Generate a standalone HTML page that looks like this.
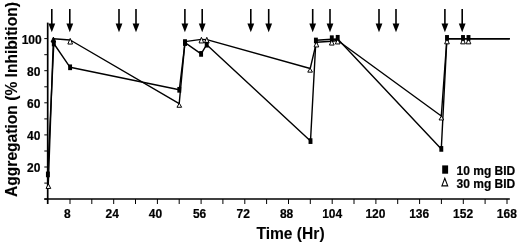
<!DOCTYPE html>
<html><head><meta charset="utf-8"><style>
html,body{margin:0;padding:0;background:#fff;}
body{width:520px;height:244px;overflow:hidden;}
svg{display:block;}
svg{will-change:transform;}
.t{font-family:"Liberation Sans",sans-serif;font-weight:bold;font-size:12px;fill:#000;stroke:#000;stroke-width:0.2px;}
.ti{font-family:"Liberation Sans",sans-serif;font-weight:bold;font-size:15.6px;fill:#000;stroke:#000;stroke-width:0.1px;}
</style></head><body>
<svg width="520" height="244" viewBox="0 0 520 244">
<line x1="47.7" y1="22.6" x2="47.7" y2="204" stroke="#000" stroke-width="1.7"/>
<line x1="44.3" y1="199" x2="509.8" y2="199" stroke="#000" stroke-width="1.6"/>
<line x1="44.3" y1="199.1" x2="47.5" y2="199.1" stroke="#000" stroke-width="1"/>
<line x1="44.3" y1="183.1" x2="47.5" y2="183.1" stroke="#000" stroke-width="1"/>
<line x1="44.3" y1="167.0" x2="47.5" y2="167.0" stroke="#000" stroke-width="1"/>
<line x1="44.3" y1="151.0" x2="47.5" y2="151.0" stroke="#000" stroke-width="1"/>
<line x1="44.3" y1="134.9" x2="47.5" y2="134.9" stroke="#000" stroke-width="1"/>
<line x1="44.3" y1="118.9" x2="47.5" y2="118.9" stroke="#000" stroke-width="1"/>
<line x1="44.3" y1="102.8" x2="47.5" y2="102.8" stroke="#000" stroke-width="1"/>
<line x1="44.3" y1="86.8" x2="47.5" y2="86.8" stroke="#000" stroke-width="1"/>
<line x1="44.3" y1="70.7" x2="47.5" y2="70.7" stroke="#000" stroke-width="1"/>
<line x1="44.3" y1="54.7" x2="47.5" y2="54.7" stroke="#000" stroke-width="1"/>
<line x1="44.3" y1="38.6" x2="47.5" y2="38.6" stroke="#000" stroke-width="1"/>
<line x1="70.0" y1="199" x2="70.0" y2="204" stroke="#000" stroke-width="1"/>
<line x1="91.8" y1="199" x2="91.8" y2="204" stroke="#000" stroke-width="1"/>
<line x1="113.7" y1="199" x2="113.7" y2="204" stroke="#000" stroke-width="1"/>
<line x1="135.5" y1="199" x2="135.5" y2="204" stroke="#000" stroke-width="1"/>
<line x1="157.4" y1="199" x2="157.4" y2="204" stroke="#000" stroke-width="1"/>
<line x1="179.2" y1="199" x2="179.2" y2="204" stroke="#000" stroke-width="1"/>
<line x1="201.1" y1="199" x2="201.1" y2="204" stroke="#000" stroke-width="1"/>
<line x1="222.9" y1="199" x2="222.9" y2="204" stroke="#000" stroke-width="1"/>
<line x1="244.8" y1="199" x2="244.8" y2="204" stroke="#000" stroke-width="1"/>
<line x1="266.6" y1="199" x2="266.6" y2="204" stroke="#000" stroke-width="1"/>
<line x1="288.5" y1="199" x2="288.5" y2="204" stroke="#000" stroke-width="1"/>
<line x1="310.3" y1="199" x2="310.3" y2="204" stroke="#000" stroke-width="1"/>
<line x1="332.2" y1="199" x2="332.2" y2="204" stroke="#000" stroke-width="1"/>
<line x1="354.0" y1="199" x2="354.0" y2="204" stroke="#000" stroke-width="1"/>
<line x1="375.9" y1="199" x2="375.9" y2="204" stroke="#000" stroke-width="1"/>
<line x1="397.7" y1="199" x2="397.7" y2="204" stroke="#000" stroke-width="1"/>
<line x1="419.6" y1="199" x2="419.6" y2="204" stroke="#000" stroke-width="1"/>
<line x1="441.4" y1="199" x2="441.4" y2="204" stroke="#000" stroke-width="1"/>
<line x1="463.3" y1="199" x2="463.3" y2="204" stroke="#000" stroke-width="1"/>
<line x1="485.1" y1="199" x2="485.1" y2="204" stroke="#000" stroke-width="1"/>
<line x1="507.0" y1="199" x2="507.0" y2="204" stroke="#000" stroke-width="1"/>
<text x="40.4" y="172.2" text-anchor="end" class="t">20</text>
<text x="40.4" y="140.1" text-anchor="end" class="t">40</text>
<text x="40.4" y="108.0" text-anchor="end" class="t">60</text>
<text x="40.4" y="75.9" text-anchor="end" class="t">80</text>
<text x="41.7" y="43.8" text-anchor="end" class="t">100</text>
<text x="67.4" y="217.7" text-anchor="middle" class="t">8</text>
<text x="112.3" y="217.7" text-anchor="middle" class="t">24</text>
<text x="155.5" y="217.7" text-anchor="middle" class="t">40</text>
<text x="199.6" y="217.7" text-anchor="middle" class="t">56</text>
<text x="243.3" y="217.7" text-anchor="middle" class="t">72</text>
<text x="286.6" y="217.7" text-anchor="middle" class="t">88</text>
<text x="332.2" y="217.7" text-anchor="middle" class="t">104</text>
<text x="375.4" y="217.7" text-anchor="middle" class="t">120</text>
<text x="419.2" y="217.7" text-anchor="middle" class="t">136</text>
<text x="463.1" y="217.7" text-anchor="middle" class="t">152</text>
<text x="506.8" y="217.7" text-anchor="middle" class="t">168</text>
<line x1="51.8" y1="9" x2="51.8" y2="25" stroke="#000" stroke-width="1.6"/>
<path d="M48.4,23.5 L55.2,23.5 L51.8,32.3 Z" fill="#000"/>
<line x1="69.8" y1="9" x2="69.8" y2="25" stroke="#000" stroke-width="1.6"/>
<path d="M66.4,23.5 L73.2,23.5 L69.8,32.3 Z" fill="#000"/>
<line x1="119.0" y1="9" x2="119.0" y2="25" stroke="#000" stroke-width="1.6"/>
<path d="M115.6,23.5 L122.4,23.5 L119.0,32.3 Z" fill="#000"/>
<line x1="136.0" y1="9" x2="136.0" y2="25" stroke="#000" stroke-width="1.6"/>
<path d="M132.6,23.5 L139.4,23.5 L136.0,32.3 Z" fill="#000"/>
<line x1="184.9" y1="9" x2="184.9" y2="25" stroke="#000" stroke-width="1.6"/>
<path d="M181.5,23.5 L188.3,23.5 L184.9,32.3 Z" fill="#000"/>
<line x1="202.2" y1="9" x2="202.2" y2="25" stroke="#000" stroke-width="1.6"/>
<path d="M198.8,23.5 L205.6,23.5 L202.2,32.3 Z" fill="#000"/>
<line x1="250.8" y1="9" x2="250.8" y2="25" stroke="#000" stroke-width="1.6"/>
<path d="M247.4,23.5 L254.2,23.5 L250.8,32.3 Z" fill="#000"/>
<line x1="268.7" y1="9" x2="268.7" y2="25" stroke="#000" stroke-width="1.6"/>
<path d="M265.3,23.5 L272.1,23.5 L268.7,32.3 Z" fill="#000"/>
<line x1="312.7" y1="9" x2="312.7" y2="25" stroke="#000" stroke-width="1.6"/>
<path d="M309.3,23.5 L316.1,23.5 L312.7,32.3 Z" fill="#000"/>
<line x1="330.0" y1="9" x2="330.0" y2="25" stroke="#000" stroke-width="1.6"/>
<path d="M326.6,23.5 L333.4,23.5 L330.0,32.3 Z" fill="#000"/>
<line x1="379.0" y1="9" x2="379.0" y2="25" stroke="#000" stroke-width="1.6"/>
<path d="M375.6,23.5 L382.4,23.5 L379.0,32.3 Z" fill="#000"/>
<line x1="396.0" y1="9" x2="396.0" y2="25" stroke="#000" stroke-width="1.6"/>
<path d="M392.6,23.5 L399.4,23.5 L396.0,32.3 Z" fill="#000"/>
<line x1="444.9" y1="9" x2="444.9" y2="25" stroke="#000" stroke-width="1.6"/>
<path d="M441.5,23.5 L448.3,23.5 L444.9,32.3 Z" fill="#000"/>
<line x1="462.2" y1="9" x2="462.2" y2="25" stroke="#000" stroke-width="1.6"/>
<path d="M458.8,23.5 L465.6,23.5 L462.2,32.3 Z" fill="#000"/>
<polyline points="47.7,174.2 53.8,43.5 70.1,67.3 179.3,89.8 185.0,42.6 201.1,53.9 206.7,44.7 310.5,141.1 315.9,40.2 331.8,39.3 337.7,39.0 441.3,148.9 446.9,38.8 463.0,38.8 468.5,38.8 509.8,38.8" fill="none" stroke="#000" stroke-width="1.4" stroke-linejoin="round"/>
<polyline points="48.3,184.6 53.4,38.8 70.2,40.0 179.2,103.6 185.0,41.6 201.3,39.4 206.8,39.6 310.2,68.5 316.4,42.3 331.8,41.3 337.7,40.5 441.3,116.0 446.9,38.8 463.0,38.8 468.5,38.8 509.8,38.8" fill="none" stroke="#000" stroke-width="1.4" stroke-linejoin="round"/>
<path d="M48.4,183.9 L50.75,188.45 L46.05,188.45 Z" fill="#fff" stroke="#000" stroke-width="1"/>
<path d="M53.4,37.1 L55.75,42.05 L51.05,42.05 Z" fill="#000" stroke="#000" stroke-width="1"/>
<path d="M70.2,38.4 L72.55,44.05 L67.85,44.05 Z" fill="#fff" stroke="#000" stroke-width="1"/>
<path d="M179.3,103.1 L181.65,107.25 L176.95,107.25 Z" fill="#fff" stroke="#000" stroke-width="1"/>
<path d="M201.4,37.3 L203.75,42.95 L199.05,42.95 Z" fill="#fff" stroke="#000" stroke-width="1"/>
<path d="M206.8,37.3 L209.15,42.95 L204.45,42.95 Z" fill="#fff" stroke="#000" stroke-width="1"/>
<path d="M310.1,68.0 L312.45,72.15 L307.75,72.15 Z" fill="#fff" stroke="#000" stroke-width="1"/>
<path d="M316.4,41.5 L318.75,46.95 L314.05,46.95 Z" fill="#fff" stroke="#000" stroke-width="1"/>
<path d="M331.8,40.0 L334.15,45.05 L329.45,45.05 Z" fill="#fff" stroke="#000" stroke-width="1"/>
<path d="M337.7,38.8 L340.05,43.95 L335.35,43.95 Z" fill="#fff" stroke="#000" stroke-width="1"/>
<path d="M441.4,116.0 L443.75,119.95 L439.05,119.95 Z" fill="#fff" stroke="#000" stroke-width="1"/>
<path d="M447.0,38.5 L449.35,43.85 L444.65,43.85 Z" fill="#fff" stroke="#000" stroke-width="1"/>
<path d="M463.0,38.5 L465.35,43.85 L460.65,43.85 Z" fill="#fff" stroke="#000" stroke-width="1"/>
<path d="M468.5,38.5 L470.85,43.85 L466.15,43.85 Z" fill="#fff" stroke="#000" stroke-width="1"/>
<rect x="45.95" y="171.55" width="3.9" height="5.7" fill="#000"/>
<rect x="51.85" y="40.65" width="3.9" height="5.7" fill="#000"/>
<rect x="68.15" y="64.45" width="3.9" height="5.7" fill="#000"/>
<rect x="177.35" y="86.95" width="3.9" height="5.7" fill="#000"/>
<rect x="183.05" y="39.75" width="3.9" height="5.7" fill="#000"/>
<rect x="199.15" y="51.05" width="3.9" height="5.7" fill="#000"/>
<rect x="204.75" y="41.85" width="3.9" height="5.7" fill="#000"/>
<rect x="308.55" y="138.25" width="3.9" height="5.7" fill="#000"/>
<rect x="313.95" y="37.65" width="3.9" height="5.7" fill="#000"/>
<rect x="329.85" y="35.35" width="3.9" height="5.7" fill="#000"/>
<rect x="335.75" y="34.95" width="3.9" height="5.7" fill="#000"/>
<rect x="439.35" y="146.05" width="3.9" height="5.7" fill="#000"/>
<rect x="445.05" y="35.05" width="3.9" height="5.7" fill="#000"/>
<rect x="461.05" y="35.05" width="3.9" height="5.7" fill="#000"/>
<rect x="466.55" y="35.05" width="3.9" height="5.7" fill="#000"/>
<rect x="183.1" y="39.3" width="3.8" height="6.6" fill="#000"/>
<rect x="442.2" y="165.4" width="5.9" height="8.3" fill="#000"/>
<path d="M444.8,178.3 L447.7,185.9 L441.9,185.9 Z" fill="#fff" stroke="#000" stroke-width="1.1"/>
<text x="456.6" y="174.8" class="t">10 mg BID</text>
<text x="456.6" y="187.8" class="t">30 mg BID</text>
<text x="290.5" y="238.9" text-anchor="middle" class="ti">Time (Hr)</text>
<text transform="translate(16.7,99.5) rotate(-90)" text-anchor="middle" class="ti">Aggregation (% Inhibition)</text>
</svg>
</body></html>
